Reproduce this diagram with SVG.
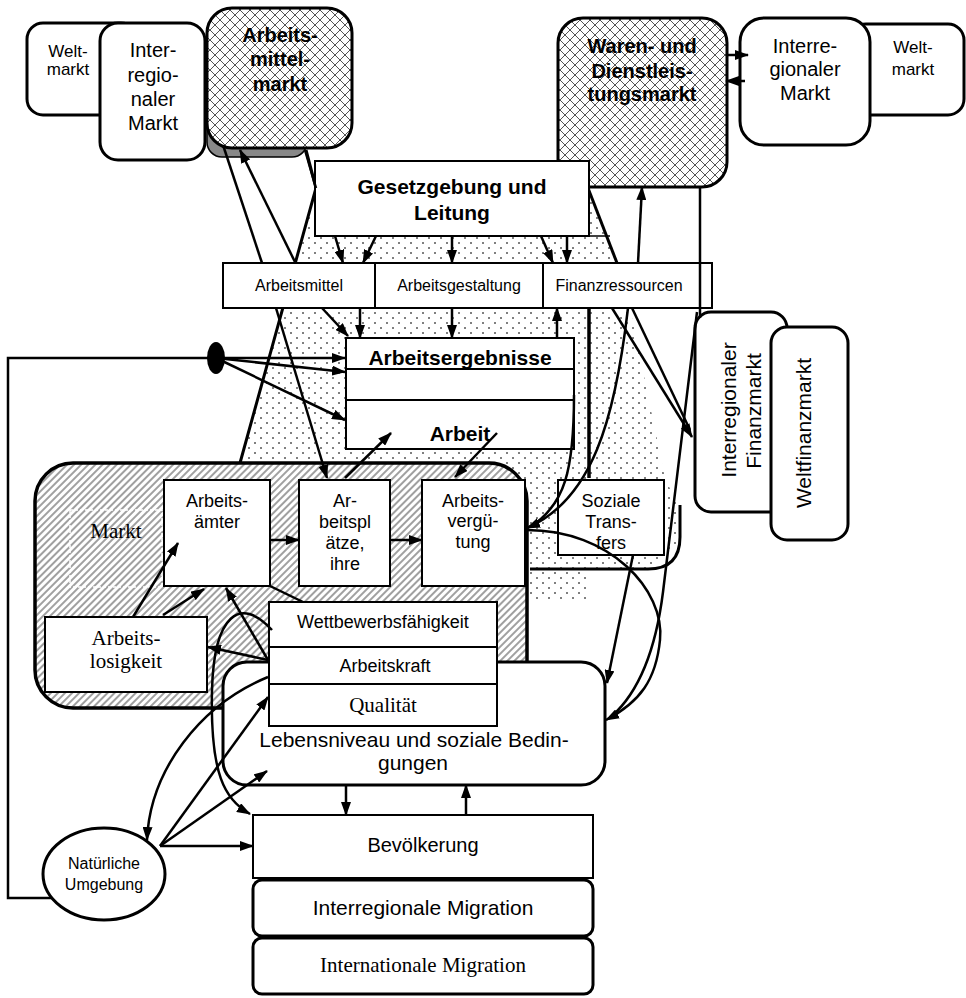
<svg xmlns="http://www.w3.org/2000/svg" width="966" height="998" viewBox="0 0 966 998">
<defs>
<pattern id="cross" width="10" height="10" patternUnits="userSpaceOnUse">
<rect width="10" height="10" fill="#fff"/>
<path d="M0,0 L10,10 M10,0 L0,10" stroke="#555" stroke-width="1"/>
</pattern>
<pattern id="dots" width="12" height="10" patternUnits="userSpaceOnUse">
<rect width="12" height="10" fill="#fff"/>
<circle cx="3" cy="3" r="1" fill="#555"/>
<circle cx="9" cy="8" r="1" fill="#555"/>
</pattern>
<pattern id="hatch" width="5" height="5" patternUnits="userSpaceOnUse" patternTransform="rotate(45)">
<rect width="5" height="5" fill="#fff"/>
<line x1="1" y1="0" x2="1" y2="5" stroke="#888" stroke-width="1.6"/>
</pattern>
<marker id="ah" viewBox="0 0 14 10" refX="13" refY="5" markerWidth="14" markerHeight="10" markerUnits="userSpaceOnUse" orient="auto">
<path d="M0,0 L14,5 L0,10 z" fill="#000"/>
</marker>
<style>
.n{fill:#fff;stroke:#000;stroke-width:3}
.b{fill:#fff;stroke:#000;stroke-width:2}
.t{font-family:"Liberation Sans",Arial,sans-serif;fill:#000;text-anchor:middle}
.s{font-family:"Liberation Serif","Times New Roman",serif;fill:#000;text-anchor:middle}
.bd{font-weight:bold}
.c path,.c line{fill:none;stroke:#000;stroke-width:2.5}
.a{marker-end:url(#ah)}
</style>
</defs>

<g id="background">
<polygon points="316,188 588,188 617,263 630,308 665,478 680,510 680,540 650,570 590,570 590,600 245,600 240,463" fill="url(#dots)"/>
<path d="M306,150 L316,188 L240,463" fill="none" stroke="#000" stroke-width="3"/>
<path d="M588,188 L617,263" fill="none" stroke="#000" stroke-width="3"/>
<path d="M589,308 V478" fill="none" stroke="#000" stroke-width="3.5"/>
<path d="M530,569 H648 Q680,569 680,537 V505" fill="none" stroke="#000" stroke-width="3"/>
</g>

<g id="weltmarkt-links"><rect class="n" x="27" y="23" width="110" height="92" rx="16"/>
<text class="t" x="68" y="57" font-size="17">Welt-</text><text class="t" x="68" y="75" font-size="17">markt</text></g>

<g id="interregionaler-markt-links"><rect class="n" x="100" y="23" width="105" height="137" rx="18"/>
<text class="t" font-size="20" x="153" y="57">Inter-</text><text class="t" font-size="20" x="153" y="82">regio-</text><text class="t" font-size="20" x="153" y="106">naler</text><text class="t" font-size="20" x="153" y="130">Markt</text></g>

<g id="arbeitsmittelmarkt"><rect x="207" y="110" width="100" height="47" rx="15" fill="#888" stroke="#000" stroke-width="1.5"/>
<rect x="207" y="8" width="145" height="140" rx="25" fill="url(#cross)" stroke="#000" stroke-width="3"/>
<text class="t bd" font-size="20" x="280" y="42">Arbeits-</text><text class="t bd" font-size="20" x="280" y="66">mittel-</text><text class="t bd" font-size="20" x="280" y="91">markt</text></g>

<g id="weltmarkt-rechts"><rect class="n" x="850" y="24" width="114" height="91" rx="16"/>
<text class="t" font-size="17" x="913" y="53">Welt-</text><text class="t" font-size="17" x="913" y="75">markt</text></g>

<g id="interregionaler-markt-rechts"><rect class="n" x="740" y="18" width="130" height="127" rx="24"/>
<text class="t" font-size="20" x="805" y="53">Interre-</text><text class="t" font-size="20" x="805" y="76">gionaler</text><text class="t" font-size="20" x="805" y="100">Markt</text></g>

<g id="warenmarkt"><rect x="558" y="18" width="169" height="169" rx="25" fill="url(#cross)" stroke="#000" stroke-width="3"/>
<text class="t bd" font-size="20" x="642" y="53">Waren- und</text><text class="t bd" font-size="20" x="642" y="78">Dienstleis-</text><text class="t bd" font-size="20" x="642" y="101">tungsmarkt</text></g>

<g id="gesetzgebung"><rect class="b" x="315" y="161" width="274" height="75"/>
<line x1="589" y1="236" x2="610" y2="236" stroke="#000" stroke-width="1.5"/>
<text class="t bd" font-size="21" x="452" y="194">Gesetzgebung und</text><text class="t bd" font-size="21" x="452" y="220">Leitung</text></g>

<g id="arbeitsmittel"><rect class="b" x="223" y="263" width="152" height="45" stroke-width="1.5"/>
<text class="t" font-size="16" x="299" y="291">Arbeitsmittel</text></g>
<g id="arbeitsgestaltung"><rect class="b" x="375" y="263" width="168" height="45" stroke-width="1.5"/>
<text class="t" font-size="16" x="459" y="291">Arbeitsgestaltung</text></g>
<g id="finanzressourcen"><rect class="b" x="543" y="263" width="169" height="45" stroke-width="1.5"/>
<text class="t" font-size="16" x="619" y="291">Finanzressourcen</text></g>

<g id="arbeitsergebnisse"><rect class="b" x="346" y="338" width="228" height="111"/>
<line x1="346" y1="369" x2="574" y2="369" stroke="#000" stroke-width="2"/>
<line x1="346" y1="400" x2="574" y2="400" stroke="#000" stroke-width="2"/>
<text class="t bd" font-size="21" x="460" y="365">Arbeitsergebnisse</text><text class="t bd" font-size="21" x="460" y="441">Arbeit</text></g>

<g id="markt-bereich"><rect x="35" y="463" width="492" height="245" rx="38" fill="url(#hatch)" stroke="#000" stroke-width="3.5"/>
<rect x="70" y="510" width="92" height="77" fill="url(#hatch)" stroke="#fff" stroke-width="1.5" stroke-dasharray="3,2"/>
<text class="s" font-size="21" x="116" y="538">Markt</text></g>

<g id="soziale-transfers"><rect class="b" x="558" y="480" width="106" height="75"/>
<text class="t" font-size="18" x="611" y="507">Soziale</text><text class="t" font-size="18" x="611" y="528">Trans-</text><text class="t" font-size="18" x="611" y="549">fers</text></g>

<g id="lebensniveau"><rect class="n" x="223" y="662" width="382" height="123" rx="24"/>
<text class="t" font-size="21" x="414" y="747">Lebensniveau und soziale Bedin-</text><text class="t" font-size="21" x="413" y="770">gungen</text></g>

<g id="arbeitsaemter"><rect class="b" x="164" y="480" width="106" height="106"/>
<text class="t" font-size="18" x="217" y="507">Arbeits-</text><text class="t" font-size="18" x="217" y="528">ämter</text></g>

<g id="arbeitsplaetze"><rect class="b" x="299" y="480" width="91" height="106"/>
<text class="t" font-size="18" x="345" y="507">Ar-</text><text class="t" font-size="18" x="345" y="528">beitspl</text><text class="t" font-size="18" x="345" y="549">ätze,</text><text class="t" font-size="18" x="345" y="570">ihre</text></g>

<g id="arbeitsverguetung"><rect class="b" x="422" y="480" width="103" height="106"/>
<text class="t" font-size="18" x="473" y="507">Arbeits-</text><text class="t" font-size="18" x="473" y="527">vergü-</text><text class="t" font-size="18" x="473" y="548">tung</text></g>

<g id="arbeitslosigkeit"><rect class="b" x="45" y="617" width="162" height="75"/>
<text class="s" font-size="21" x="126" y="645">Arbeits-</text><text class="s" font-size="21" x="126" y="668">losigkeit</text></g>

<g id="wettbewerbsfaehigkeit"><rect class="b" x="269" y="602" width="228" height="45"/>
<text class="t" font-size="18" x="383" y="628">Wettbewerbsfähigkeit</text></g>
<g id="arbeitskraft"><rect class="b" x="269" y="647" width="228" height="37"/>
<text class="t" font-size="18" x="385" y="672">Arbeitskraft</text></g>
<g id="qualitaet"><rect class="b" x="269" y="684" width="228" height="42"/>
<text class="s" font-size="21" x="383" y="712">Qualität</text></g>

<g id="bevoelkerung"><rect class="b" x="253" y="815" width="340" height="63" stroke-width="3.5"/>
<text class="t" font-size="20" x="423" y="852">Bevölkerung</text></g>
<g id="interregionale-migration"><rect class="n" x="253" y="880" width="340" height="56" rx="9"/>
<text class="t" font-size="21" x="423" y="915">Interregionale Migration</text></g>
<g id="internationale-migration"><rect class="n" x="253" y="938" width="340" height="56" rx="9"/>
<text class="s" font-size="21" x="423" y="972">Internationale Migration</text></g>

<g id="natuerliche-umgebung"><ellipse class="n" cx="104" cy="874" rx="61" ry="46"/>
<text class="t" font-size="16" x="104" y="869">Natürliche</text><text class="t" font-size="16" x="104" y="890">Umgebung</text></g>

<g id="interregionaler-finanzmarkt"><rect class="n" x="695" y="312" width="92" height="200" rx="16"/>
<text class="t" font-size="21" transform="translate(736,410) rotate(-90)">Interregionaler</text>
<text class="t" font-size="21" transform="translate(761,411) rotate(-90)">Finanzmarkt</text></g>
<g id="weltfinanzmarkt"><rect class="n" x="771" y="327" width="77" height="213" rx="16"/>
<text class="t" font-size="21" transform="translate(811,433) rotate(-90)">Weltfinanzmarkt</text></g>

<g id="knoten-punkt"><ellipse cx="216" cy="358" rx="9" ry="16" fill="#000"/></g>

<g id="connectors" class="c">
<path class="a" d="M727,55 L748,55"/>
<path class="a" d="M745,81 L726,81"/>
<path class="a" d="M295,262 L240,150"/>
<path d="M223,145 L262,263"/>
<path class="a" d="M276,308 L327,478"/>
<path d="M305,150 L316,188"/>
<path class="a" d="M335,236 L343,263"/>
<path class="a" d="M376,236 L363,263"/>
<path class="a" d="M452,236 V263"/>
<path class="a" d="M541,236 L553,263"/>
<path class="a" d="M567,236 V263"/>
<path class="a" d="M638,263 L642,187"/>
<path class="a" d="M360,308 V338"/>
<path class="a" d="M322,308 L348,336"/>
<path class="a" d="M452,308 V338"/>
<path class="a" d="M557,338 V308"/>
<path class="a" d="M52,898 H8 V358 H345" stroke-width="3"/>
<path class="a" d="M216,358 L345,372" stroke-width="3"/>
<path class="a" d="M216,358 L345,420" stroke-width="3"/>
<path class="a" d="M345,478 L391,433"/>
<path class="a" d="M497,433 L455,477"/>
<path class="a" d="M270,540 H299"/>
<path class="a" d="M390,540 H422"/>
<path class="a" d="M628,308 C615,420 592,500 527,528"/>
<path d="M574,395 C574,470 565,505 530,527"/>
<path class="a" d="M527,530 C610,530 665,590 660,640 C656,680 640,702 606,720"/>
<path d="M697,312 L663,592 Q652,680 612,716"/>
<path class="a" d="M612,308 L692,437"/>
<path d="M632,308 L690,430"/>
<path class="a" d="M633,555 L607,683"/>
<path d="M700,187 V318"/>
<path class="a" d="M133,617 L178,543"/>
<path class="a" d="M163,615 L204,589"/>
<path class="a" d="M268,660 L226,588"/>
<path class="a" d="M268,660 L208,647"/>
<path d="M270,586 L303,602"/>
<path class="a" d="M272,630 C240,595 214,615 212,690 C210,775 225,800 250,814"/>
<path class="a" d="M268,677 C200,705 150,770 147,840"/>
<path class="a" d="M160,846 L253,846"/>
<path class="a" d="M160,846 L267,771"/>
<path class="a" d="M160,846 L268,697"/>
<path class="a" d="M346,785 V815"/>
<path class="a" d="M466,815 V785"/>
</g>
</svg>
